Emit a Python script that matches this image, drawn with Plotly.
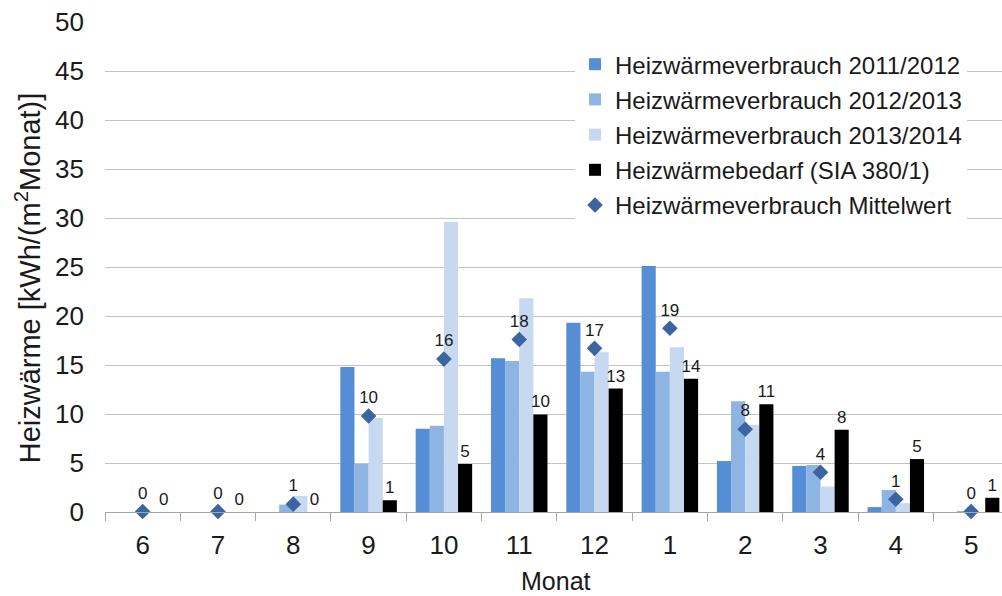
import plotly.graph_objects as go

months = ["6", "7", "8", "9", "10", "11", "12", "1", "2", "3", "4", "5"]
verbrauch_2011_2012 = [0, 0, 0, 14.8, 8.5, 15.7, 19.3, 25.1, 5.2, 4.7, 0.5, 0]
verbrauch_2012_2013 = [0, 0, 0.75, 4.9, 8.8, 15.4, 14.3, 14.3, 11.3, 4.8, 2.25, 0.1]
verbrauch_2013_2014 = [0, 0, 1.65, 9.6, 29.6, 21.8, 16.3, 16.8, 8.9, 2.6, 0.9, 0]
bedarf_sia = [0, 0, 0, 1.2, 4.9, 9.95, 12.6, 13.6, 11.0, 8.4, 5.4, 1.45]
mittelwert = [0.05, 0.05, 0.8, 9.8, 15.6, 17.6, 16.7, 18.75, 8.45, 4.05, 1.3, 0.05]
bedarf_labels = ["0", "0", "0", "1", "5", "10", "13", "14", "11", "8", "5", "1"]
mittel_labels = ["0", "0", "1", "10", "16", "18", "17", "19", "8", "4", "1", "0"]

FONT = "Liberation Sans, Arial, sans-serif"
TXT = "#1a1a1a"

fig = go.Figure()
fig.add_trace(go.Bar(x=months, y=verbrauch_2011_2012, name="Heizwärmeverbrauch 2011/2012",
                     legendgroup="a", marker=dict(color="#558ED5", line=dict(width=0))))
fig.add_trace(go.Bar(x=months, y=verbrauch_2012_2013, name="Heizwärmeverbrauch 2012/2013",
                     legendgroup="b", marker=dict(color="#8EB4E3", line=dict(width=0))))
fig.add_trace(go.Bar(x=months, y=verbrauch_2013_2014, name="Heizwärmeverbrauch 2013/2014",
                     legendgroup="c", marker=dict(color="#C6D9F1", line=dict(width=0))))
fig.add_trace(go.Bar(x=months, y=bedarf_sia, name="Heizwärmebedarf (SIA 380/1)",
                     legendgroup="d", marker=dict(color="#000000", line=dict(width=0)),
                     text=bedarf_labels, textposition="outside", cliponaxis=False,
                     constraintext="none",
                     textfont=dict(family=FONT, size=17, color=TXT)))
fig.add_trace(go.Scatter(x=months, y=mittelwert, name="Heizwärmeverbrauch Mittelwert",
                         legendgroup="e",
                         mode="markers+text", text=mittel_labels, textposition="top center",
                         marker=dict(symbol="diamond", size=12, color="#3B64A0"),
                         textfont=dict(family=FONT, size=17, color=TXT), cliponaxis=False))

fig.update_layout(
    width=1002, height=596,
    margin=dict(l=105, r=0, t=22, b=84),
    paper_bgcolor="white", plot_bgcolor="white",
    barmode="group", bargap=0.25, bargroupgap=0,
    font=dict(family=FONT, color=TXT),
    showlegend=True,
    legend=dict(x=0.524, y=0.959, xanchor="left", yanchor="top",
                bgcolor="white", borderwidth=0, tracegroupgap=1,
                font=dict(family=FONT, size=24, color=TXT)),
    xaxis=dict(type="category", categoryorder="array", categoryarray=months,
               range=[-0.5, 11.41], showgrid=False, showline=True, linecolor="#A6A6A6",
               linewidth=1, ticks="outside", tickson="boundaries", ticklen=8,
               tickcolor="#A6A6A6", tickfont=dict(family=FONT, size=26, color=TXT),
               ticklabelstandoff=10, zeroline=False),
    yaxis=dict(range=[0, 50], dtick=5, showgrid=True, gridcolor="#C3C3C3", gridwidth=1,
               zeroline=False, showline=False, ticks="",
               tickfont=dict(family=FONT, size=26, color=TXT), ticklabelstandoff=20),
    annotations=[
        dict(text="Heizwärme [kWh/(m<sup>2</sup>Monat)]", xref="paper", yref="paper",
             x=-0.0858, y=0.477, xanchor="center", yanchor="middle", textangle=-90,
             showarrow=False, font=dict(family=FONT, size=29, color=TXT)),
        dict(text="Monat", xref="paper", yref="paper", x=0.503, y=-0.1398,
             xanchor="center", yanchor="middle", showarrow=False,
             font=dict(family=FONT, size=25, color=TXT)),
    ],
)

fig.write_html("out.html", config={"displayModeBar": False},
               post_script="document.body.style.margin='0';document.body.style.overflow='hidden';")
